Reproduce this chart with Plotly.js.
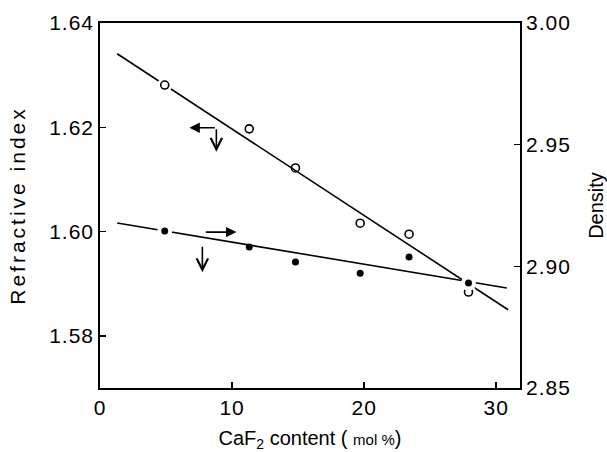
<!DOCTYPE html>
<html>
<head>
<meta charset="utf-8">
<script src="https://cdn.plot.ly/plotly-3.0.1.min.js"></script>
<style>
  html, body { margin: 0; padding: 0; background: #fff; }
  #chart { width: 607px; height: 452px; }
  .ytitle { letter-spacing: 3px; }
  .xtick text, .ytick text, .y2tick text { letter-spacing: 1px; }
</style>
</head>
<body>
<div id="chart"></div>
<script>
// CaF2 content of each glass (mol %)
const caf2 = [4.9, 11.3, 14.8, 19.7, 23.4, 27.9];
// Refractive index (open circles, left axis)
const refractiveIndex = [1.6281, 1.6197, 1.6122, 1.6016, 1.5995, 1.5884];
// Density (filled circles, right axis)
const density = [2.9145, 2.9079, 2.9018, 2.8972, 2.9038, 2.8931];

// Straight-line fits through each series
const riFitX = [1.3, 30.9];
const riFitY = [1.6341, 1.5850];
const densFitX = [1.3, 30.8];
const densFitY = [2.9178, 2.8911];

// Axis ticks
const xTicks = [0, 10, 20, 30];
const riTicks = [1.58, 1.60, 1.62, 1.64];
const densTicks = [2.85, 2.90, 2.95, 3.00];

// Points where the fitted lines are broken around the markers
const gapIdx = [0, caf2.length - 1];
const pick = (arr) => gapIdx.map(i => arr[i]);

const FONT = 'Liberation Sans, Arial, sans-serif';

const traces = [
  { x: riFitX, y: riFitY, mode: 'lines', line: { color: '#000', width: 1.6 },
    hoverinfo: 'skip', showlegend: false },
  { x: densFitX, y: densFitY, yaxis: 'y2', mode: 'lines', line: { color: '#000', width: 1.6 },
    hoverinfo: 'skip', showlegend: false },
  // white halos that open the lines around end points
  { x: pick(caf2), y: pick(refractiveIndex), mode: 'markers',
    marker: { color: '#fff', size: 15, line: { width: 0 } }, hoverinfo: 'skip', showlegend: false },
  { x: pick(caf2), y: pick(density), yaxis: 'y2', mode: 'markers',
    marker: { color: '#fff', size: 15, line: { width: 0 } }, hoverinfo: 'skip', showlegend: false },
  { x: caf2, y: refractiveIndex, mode: 'markers', name: 'Refractive index',
    marker: { symbol: 'circle-open', color: '#000', size: 8, line: { width: 1.6, color: '#000' } },
    showlegend: false },
  { x: caf2, y: density, yaxis: 'y2', mode: 'markers', name: 'Density',
    marker: { symbol: 'circle', color: '#000', size: 7 }, showlegend: false }
];

const arrowBase = {
  text: '', showarrow: true, xref: 'x', yref: 'y', axref: 'x', ayref: 'y',
  arrowcolor: '#000', arrowwidth: 1.6, standoff: 0, startstandoff: 0
};

const layout = {
  width: 607, height: 452,
  margin: { l: 100, r: 87, t: 23, b: 64 },
  paper_bgcolor: '#fff', plot_bgcolor: '#fff',
  font: { family: FONT, size: 20, color: '#000' },
  xaxis: {
    range: [0, 31.8], tickvals: xTicks, ticktext: xTicks.map(String),
    ticks: 'inside', ticklen: 6, tickwidth: 1.5, tickcolor: '#000',
    showline: true, linecolor: '#000', linewidth: 1.8, mirror: true,
    showgrid: false, zeroline: false,
    tickfont: { size: 21 },
    title: { text: 'CaF<sub>2</sub> content ( <span style="font-size:15px">mol %</span>)',
             font: { size: 20 }, standoff: 24 }
  },
  yaxis: {
    range: [1.57, 1.64], tickvals: riTicks, ticktext: riTicks.map(v => v.toFixed(2)),
    ticks: 'inside', ticklen: 6, tickwidth: 1.5, tickcolor: '#000',
    showline: true, linecolor: '#000', linewidth: 1.8,
    showgrid: false, zeroline: false,
    tickfont: { size: 21 },
    title: { text: 'Refractive index', font: { size: 21 }, standoff: 18 }
  },
  yaxis2: {
    overlaying: 'y', side: 'right',
    range: [2.85, 3.00], tickvals: densTicks, ticktext: densTicks.map(v => v.toFixed(2)),
    ticks: 'inside', ticklen: 6, tickwidth: 1.5, tickcolor: '#000',
    showline: true, linecolor: '#000', linewidth: 1.8,
    showgrid: false, zeroline: false,
    tickfont: { size: 21 },
    title: { text: 'Density', font: { size: 20 }, standoff: 22 }
  },
  annotations: [
    // refractive index → left axis
    Object.assign({}, arrowBase, { x: 6.77, y: 1.6199, ax: 8.81, ay: 1.6199, arrowhead: 2, arrowsize: 1.3 }),
    Object.assign({}, arrowBase, { x: 8.81, y: 1.6153, ax: 8.81, ay: 1.6199, arrowhead: 5, arrowsize: 1.4 }),
    // density → right axis
    Object.assign({}, arrowBase, { x: 10.33, y: 1.5999, ax: 7.90, ay: 1.5999, arrowhead: 2, arrowsize: 1.3 }),
    Object.assign({}, arrowBase, { x: 7.75, y: 1.5922, ax: 7.75, ay: 1.5974, arrowhead: 5, arrowsize: 1.4 })
  ],
  showlegend: false
};

Plotly.newPlot('chart', traces, layout, { staticPlot: true, displayModeBar: false });
</script>
</body>
</html>
